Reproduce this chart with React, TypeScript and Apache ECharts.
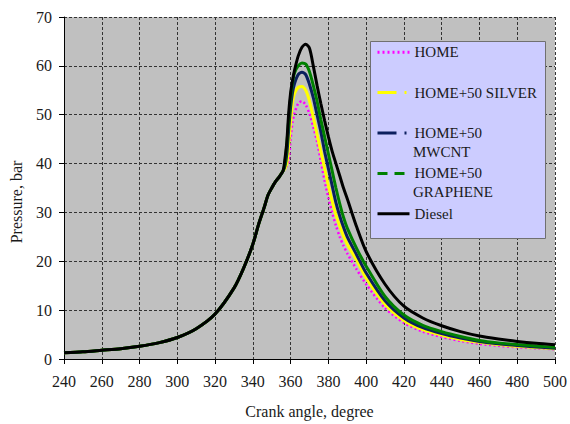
import React, { useEffect, useRef } from "react";
import * as echarts from "echarts";

// Crank angle (degree) sample points shared by all curves
const angles = [
  240, 250, 260, 270, 280, 290, 300, 310, 320, 330, 335, 340, 343, 346, 348, 350, 352, 354, 356,
  357, 358, 359, 360, 361, 362, 364, 366, 368, 370, 372, 374, 376, 378, 380, 382, 384, 386, 388,
  390, 395, 400, 410, 420, 430, 440, 450, 460, 470, 480, 490, 500,
];

// Compression stroke (common to all fuels), 240..356
const compression = [1.3, 1.5, 1.8, 2.1, 2.6, 3.3, 4.4, 6.2, 9.2, 14.5, 18.5, 23.5, 27.5, 31, 33.5, 35, 36.3, 37.3, 38.5];

// Combustion / expansion, 357..500
const home = [39, 39.5, 40.5, 45, 48.5, 50.2, 52.3, 52.8, 52, 50.2, 47.5, 44.5, 40.5, 36.5, 33, 30, 27.3, 25, 23.2, 21.6, 18.3, 15.3, 10.4, 7.4, 5.6, 4.5, 3.7, 3.1, 2.7, 2.4, 2.2, 2.0];
const silver = [39, 40, 44, 48.5, 52.5, 54.3, 55.6, 55.8, 55, 52.8, 49.5, 46, 42.5, 39, 35.5, 32.3, 29.5, 27.2, 25.2, 23.5, 20.2, 16.6, 11.2, 7.9, 6.0, 4.9, 4.0, 3.4, 2.95, 2.6, 2.35, 2.1];
const mwcnt = [39.5, 42, 47, 51.5, 54.5, 56.3, 58.2, 58.7, 58.2, 56.2, 53.5, 50, 46.5, 42.5, 39, 35.5, 32, 29.3, 27, 25, 21.3, 17.6, 11.9, 8.4, 6.4, 5.2, 4.3, 3.6, 3.1, 2.75, 2.45, 2.2];
const graphene = [40, 44, 49, 53.5, 56.5, 58.5, 60, 60.6, 60.4, 58.8, 56, 52.8, 49, 45.5, 42, 38.5, 35, 31.8, 29, 26.8, 22.6, 19, 12.8, 9.0, 6.9, 5.6, 4.6, 3.8, 3.3, 2.95, 2.65, 2.4];
const diesel = [41, 44.5, 50.5, 54.5, 57, 59, 62, 63.8, 64.4, 63.6, 60, 56, 52.3, 48.8, 45.5, 42.5, 40, 37.5, 35, 32.8, 27, 22, 15.3, 10.8, 8.4, 6.8, 5.6, 4.7, 4.1, 3.6, 3.2, 2.9];

const seriesNames = ["HOME", "HOME+50 SILVER", "HOME+50 MWCNT", "HOME+50 GRAPHENE", "Diesel"];
const legendFirstLine = ["HOME", "HOME+50 SILVER", "HOME+50", "HOME+50", "Diesel"];
const legendSecondLine = ["", "", "MWCNT", "GRAPHENE", ""];
const xTicks = { min: 240, max: 500, step: 20 };
const yTicks = { min: 0, max: 70, step: 10 };

const FONT = "Liberation Serif";
const TXT = "#1a1a1a";

export default function App() {
  const ref = useRef<HTMLDivElement>(null);

  useEffect(() => {
    if (!ref.current) return;
    const chart = echarts.init(ref.current, null, { renderer: "svg" });

    const curves = [home, silver, mwcnt, graphene, diesel];
    const colors = ["#FF00FF", "#FFFF00", "#0B1F5E", "#008000", "#000000"];
    const widths = [2.5, 3, 3, 3, 3];
    const plotTypes: any[] = [[2, 2.5], "solid", "solid", "solid", "solid"];
    const iconTypes: any[] = [[2, 3], [19, 8, 2, 10], [19, 8, 2, 10], [10, 7], "solid"];

    const series = curves.map((c, i) => {
      const vals = compression.concat(c);
      return {
        name: seriesNames[i],
        type: "line",
        data: angles.map((a, k) => [a, vals[k]]),
        showSymbol: false,
        symbol: "none",
        smooth: 0.25,
        z: 2,
        lineStyle: { color: colors[i], width: widths[i], type: plotTypes[i] },
        itemStyle: { color: colors[i] },
      };
    });

    const legendLeft = 376;
    const legendTop = 51.7 - 7;
    const itemH = 14;
    const itemGap = 25.4;

    const secondLines = legendSecondLine
      .map((t, i) => ({ t, i }))
      .filter((o) => o.t)
      .map((o) => ({
        type: "text",
        z: 30,
        x: legendLeft + 32 + 5,
        y: legendTop + itemH / 2 + o.i * (itemH + itemGap) + 21.7,
        style: {
          text: o.t,
          fontFamily: FONT,
          fontSize: 15,
          fill: TXT,
          textAlign: "left",
          textVerticalAlign: "middle",
          verticalAlign: "middle",
        },
      }));

    const option: any = {
      animation: false,
      backgroundColor: "#ffffff",
      textStyle: { fontFamily: FONT },
      grid: {
        left: 58,
        right: 13,
        top: 17,
        bottom: 63,
        show: true,
        backgroundColor: "#C0C0C0",
        borderWidth: 0,
      },
      legend: {
        show: true,
        z: 20,
        orient: "vertical",
        left: legendLeft,
        top: legendTop,
        padding: 0,
        itemWidth: 32,
        itemHeight: itemH,
        itemGap,
        selectedMode: false,
        formatter: (name: string) => legendFirstLine[seriesNames.indexOf(name)],
        textStyle: { fontFamily: FONT, fontSize: 15, color: TXT, lineHeight: itemH },
        data: seriesNames.map((n, i) => ({
          name: n,
          lineStyle: { color: colors[i], width: 3, type: iconTypes[i], opacity: 1 },
          itemStyle: { color: "rgba(0,0,0,0)", borderWidth: 0, borderColor: "rgba(0,0,0,0)", opacity: 0 },
        })),
      },
      graphic: [
        {
          type: "rect",
          z: 10,
          shape: { x: 370.5, y: 41.5, width: 175, height: 197 },
          style: { fill: "#CCCCFF", stroke: "#707070", lineWidth: 1 },
        },
        ...secondLines,
      ],
      xAxis: {
        type: "value",
        min: xTicks.min,
        max: xTicks.max,
        interval: xTicks.step,
        name: "Crank angle, degree",
        nameLocation: "middle",
        nameGap: 44,
        nameTextStyle: { fontFamily: FONT, fontSize: 16, color: TXT, verticalAlign: "top" },
        axisLine: { show: true, onZero: false, lineStyle: { color: "#000", width: 1 } },
        axisTick: { show: true, length: 5, lineStyle: { color: "#000" } },
        axisLabel: { margin: 14, fontFamily: FONT, fontSize: 16, color: TXT },
        splitLine: { show: true, lineStyle: { color: "#333", width: 1, type: [3, 2] } },
      },
      yAxis: {
        type: "value",
        min: yTicks.min,
        max: yTicks.max,
        interval: yTicks.step,
        name: "Pressure, bar",
        nameLocation: "middle",
        nameGap: 40,
        nameTextStyle: { fontFamily: FONT, fontSize: 16, color: TXT, padding: [0, 28, 0, 0] },
        axisLine: { show: true, onZero: false, lineStyle: { color: "#000", width: 1 } },
        axisTick: { show: true, length: 5, lineStyle: { color: "#000" } },
        axisLabel: { margin: 12, fontFamily: FONT, fontSize: 16, color: TXT },
        splitLine: { show: true, lineStyle: { color: "#333", width: 1, type: [3, 2] } },
      },
      series,
    };

    chart.setOption(option);
    return () => chart.dispose();
  }, []);

  return (
    <div
      ref={ref}
      style={{ position: "fixed", left: 0, top: 0, width: 570, height: 424, background: "#fff" }}
    />
  );
}
